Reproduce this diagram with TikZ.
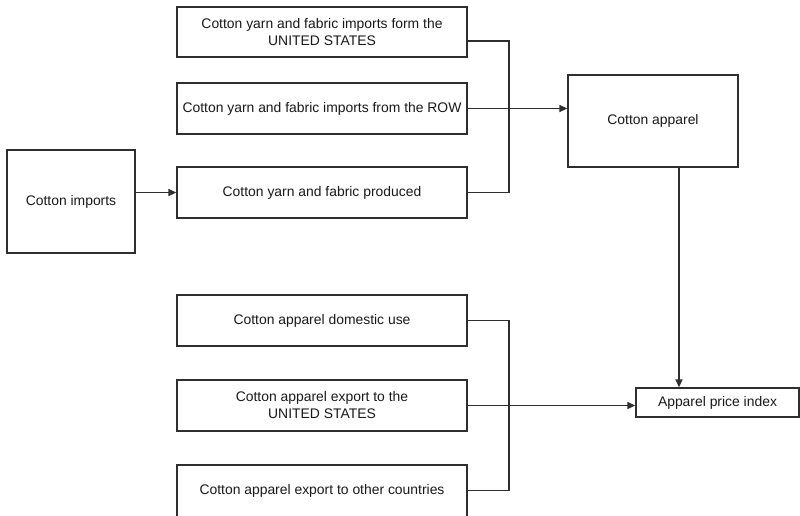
\documentclass[tikz,border=0pt]{standalone}
\usepackage{fontspec}
\setmainfont{Liberation Sans}
\usetikzlibrary{arrows.meta}
\definecolor{ln}{HTML}{2E2E2E}
\begin{document}
\begin{tikzpicture}[x=1pt,y=-1pt,
  box/.style={draw=ln,line width=1.3pt,fill=white,inner sep=0pt,align=center,
    font=\fontsize{13.9}{17}\selectfont,text=black!90},
  conn/.style={draw=ln,line width=1.4pt},
  arr/.style={conn,-{Triangle[length=8pt,width=7pt]}}]
\useasboundingbox (0,0) rectangle (800,515);
\coordinate (jx) at (509,0);
\node[box,minimum width=290pt,minimum height=50pt] (b1) at (322,32) {Cotton yarn and fabric imports form the\\UNITED STATES};
\node[box,minimum width=290pt,minimum height=51pt] (b2) at (322,108.5) {Cotton yarn and fabric imports from the ROW};
\node[box,minimum width=290pt,minimum height=51pt] (b3) at (322,192.5) {Cotton yarn and fabric produced};
\node[box,minimum width=128pt,minimum height=103pt] (ci) at (71,201.5) {Cotton imports};
\node[box,minimum width=170pt,minimum height=92pt] (ca) at (653,121) {Cotton apparel};
\node[box,minimum width=290pt,minimum height=51pt] (b6) at (322,320.5) {Cotton apparel domestic use};
\node[box,minimum width=290pt,minimum height=51pt] (b7) at (322,405.5) {Cotton apparel export to the\\UNITED STATES};
\node[box,minimum width=290pt,minimum height=56pt] (b8) at (322,493) {};
\node[font=\fontsize{13.9}{17}\selectfont,text=black!90] (b8t) at (322,490.5) {Cotton apparel export to other countries};
\node[box,minimum width=163pt,minimum height=29pt] (api) at (717.5,402.5) {Apparel price index};
% top group
\draw[conn] ([yshift=-9pt]b1.east) -| (jx |- b3.east) -- (b3.east);
\draw[arr] (b2.east) -- (b2.east -| ca.west);
\draw[arr] (b3.west -| ci.east) -- (b3.west);
\draw[arr] ([xshift=26pt]ca.south) -- ([xshift=26pt]ca.south |- api.north);
% bottom group
\draw[conn] (b6.east) -| (jx |- b8t.east) -- (b8t.east -| b8.east);
\draw[arr] (b7.east) -- (b7.east -| api.west);
\end{tikzpicture}
\end{document}
